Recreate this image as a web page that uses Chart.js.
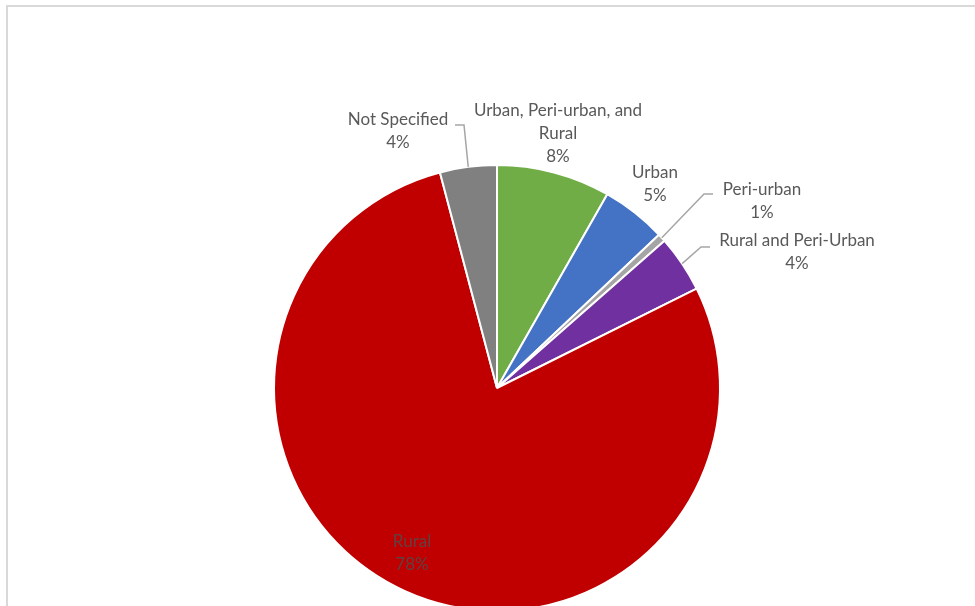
<!DOCTYPE html>
<html>
<head>
<meta charset="utf-8">
<script src="https://cdn.jsdelivr.net/npm/chart.js@4.4.0/dist/chart.umd.min.js"></script>
<style>
  html, body { margin: 0; padding: 0; background: #fff; overflow: hidden; }
  #wrap { width: 975px; height: 620px; position: relative; }
</style>
</head>
<body>
<div id="wrap"><canvas id="pie"></canvas></div>
<script>
// study locations, clockwise from 12 o'clock
const categories = ['Urban, Peri-urban, and Rural', 'Urban', 'Peri-urban', 'Rural and Peri-Urban', 'Rural', 'Not Specified'];
const counts = [14, 8, 1, 7, 133, 7];
const sliceColors = ['#70AD47', '#4472C4', '#A5A5A5', '#7030A0', '#C00000', '#808080'];

// where each data label sits (centre of the text block) and where its leader starts
const labelLayout = [
    {x: 558, y: 134, hook: null},
    {x: 655, y: 184, hook: null},
    {x: 762, y: 201, hook: [713, 194], dir: -1},
    {x: 797, y: 252, hook: [710, 247], dir: -1},
    {x: 412, y: 553, hook: null, inside: true},
    {x: 398, y: 131, hook: [455, 125], dir: 1}
];

const total = counts.reduce((a, b) => a + b, 0);
const FONT = '17px Lato, "Open Sans", sans-serif';
const LINE_H = 23;

function wrapText(ctx, text, maxW){
    const words = text.split(' ');
    const lines = [];
    let cur = '';
    words.forEach((w) => {
        const t = cur ? cur + ' ' + w : w;
        if (cur && ctx.measureText(t).width > maxW) {
            lines.push(cur);
            cur = w;
        } else {
            cur = t;
        }
    });
    if (cur) lines.push(cur);
    return lines;
}

const framePlugin = {
    id: 'frame',
    beforeDraw(chart){
        const ctx = chart.ctx;
        ctx.save();
        ctx.strokeStyle = '#D9D9D9';
        ctx.lineWidth = 2;
        ctx.beginPath();
        ctx.moveTo(7, 620);
        ctx.lineTo(7, 6);
        ctx.lineTo(975, 6);
        ctx.stroke();
        ctx.restore();
    }
};

const labelPlugin = {
    id: 'sliceLabels',
    afterDatasetsDraw(chart){
        const ctx = chart.ctx;
        const arcs = chart.getDatasetMeta(0).data;
        ctx.save();
        ctx.font = FONT;
        ctx.textAlign = 'center';
        ctx.textBaseline = 'middle';
        arcs.forEach((arc, i) => {
            const lay = labelLayout[i];
            const pct = Math.round(counts[i] / total * 100) + '%';
            const lines = wrapText(ctx, categories[i], 195).concat([pct]);

            if (lay.hook) {
                const p = arc.getProps(['x', 'y', 'startAngle', 'endAngle', 'outerRadius'], true);
                const mid = (p.startAngle + p.endAngle) / 2;
                const ex = p.x + Math.cos(mid) * p.outerRadius;
                const ey = p.y + Math.sin(mid) * p.outerRadius;
                ctx.strokeStyle = '#A6A6A6';
                ctx.lineWidth = 1.5;
                ctx.beginPath();
                ctx.moveTo(lay.hook[0], lay.hook[1]);
                ctx.lineTo(lay.hook[0] + lay.dir * 9, lay.hook[1]);
                ctx.lineTo(ex, ey);
                ctx.stroke();
            }

            ctx.fillStyle = lay.inside ? '#604040' : '#595959';
            const top = lay.y - (lines.length - 1) * LINE_H / 2;
            lines.forEach((ln, k) => {
                ctx.fillText(ln, lay.x, top + k * LINE_H);
            });
        });
        ctx.restore();
    }
};

new Chart(document.getElementById('pie'), {
    type: 'pie',
    data: {
        labels: categories,
        datasets: [{
            data: counts,
            backgroundColor: sliceColors,
            borderColor: '#FFFFFF',
            borderWidth: 2
        }]
    },
    options: {
        responsive: true,
        maintainAspectRatio: false,
        animation: false,
        rotation: 0,
        layout: {padding: {top: 164, bottom: 8, left: 272, right: 253}},
        plugins: {
            legend: {display: false},
            tooltip: {enabled: false}
        }
    },
    plugins: [framePlugin, labelPlugin]
});
</script>
</body>
</html>
